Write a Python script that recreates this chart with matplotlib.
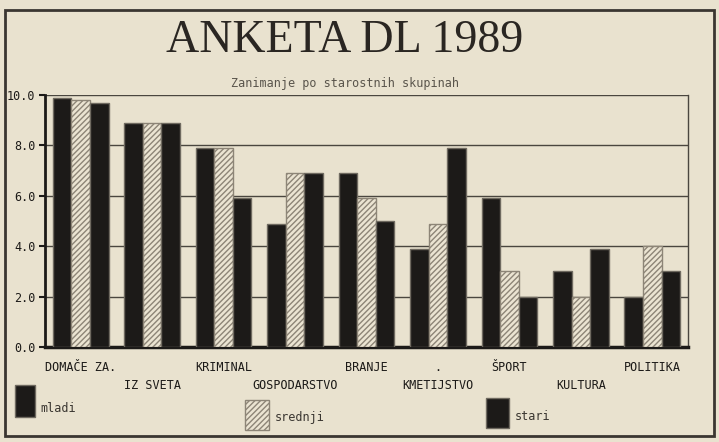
import numpy as np
import matplotlib
matplotlib.use("Agg")
import matplotlib.pyplot as plt
from matplotlib.patches import Rectangle

# =========================
# DATA
# =========================
categories = ["DOMAČE ZA.", "IZ SVETA", "KRIMINAL", "GOSPODARSTVO", "BRANJE",
              "KMETIJSTVO", "ŠPORT", "KULTURA", "POLITIKA"]
mladi = [9.9, 8.9, 7.9, 4.9, 6.9, 3.9, 5.9, 3.0, 2.0]
srednji = [9.8, 8.9, 7.9, 6.9, 5.9, 4.9, 3.0, 2.0, 4.0]
stari = [9.7, 8.9, 5.9, 6.9, 5.0, 7.9, 2.0, 3.9, 3.0]
series_names = ["mladi", "srednji", "stari"]
yticks = [0, 2, 4, 6, 8, 10]

title = "ANKETA DL 1989"
subtitle = "Zanimanje po starostnih skupinah"

# =========================
# STYLE
# =========================
paper = "#e9e2cf"
ink = "#1c1a18"
gray = "#6f6a60"
mono = "DejaVu Sans Mono"

W, H = 719, 442
fig = plt.figure(figsize=(W / 100, H / 100), dpi=100, facecolor=paper)

# outer frame of the printout
fig.add_artist(Rectangle((5 / W, 6 / H), 709 / W, 426 / H, transform=fig.transFigure,
                         fill=False, edgecolor="#3a3631", linewidth=2))

fig.text(0.48, 1 - 41 / H, title, ha="center", va="center", fontsize=33,
         family="Liberation Serif", color="#2a2622")
fig.text(0.48, 1 - 84 / H, subtitle, ha="center", va="center", fontsize=8.5,
         family=mono, color="#5a554c")

# =========================
# PLOT
# =========================
ax = fig.add_axes([45 / W, (H - 347) / H, (688 - 45) / W, (347 - 95) / H])
ax.set_facecolor(paper)

x = np.arange(len(categories))
w = 0.26

ax.bar(x - w, mladi, w, color=ink, edgecolor=gray, linewidth=1, zorder=3)
ax.bar(x, srednji, w, color="#ebe4d2", edgecolor="#8d8577", linewidth=1,
       hatch="//////", zorder=3)
ax.bar(x + w, stari, w, color=ink, edgecolor=gray, linewidth=1, zorder=3)

ax.set_xlim(-0.5, len(categories) - 0.5)
ax.set_ylim(0, 10)
ax.set_yticks(yticks)
ax.set_yticklabels([f"{v:.1f}" for v in yticks], family=mono, fontsize=8.5, color=ink)
ax.yaxis.grid(True, color="#4a463f", linewidth=1, zorder=0)

labels = []
for i, c in enumerate(categories):
    if c == "KMETIJSTVO":
        labels.append(".\n" + c)
    elif i % 2 == 1:
        labels.append("\n" + c)
    else:
        labels.append(c)
ax.set_xticks(x)
ax.set_xticklabels(labels, family=mono, fontsize=8.5, color=ink, linespacing=1.55)
ax.tick_params(axis="x", length=0, pad=10)
ax.tick_params(axis="y", length=4, width=1.5, color=ink, pad=3)
# first label sits a bit right of its group in the printout
ax.get_xticklabels()[0].set_x(0.25)

ax.spines["top"].set_visible(False)
ax.spines["left"].set_linewidth(2)
ax.spines["left"].set_color(ink)
ax.spines["bottom"].set_linewidth(2.5)
ax.spines["bottom"].set_color(ink)
ax.spines["right"].set_linewidth(1)
ax.spines["right"].set_color("#4a463f")

# =========================
# LEGEND (printout style)
# =========================
legend_boxes = [(15, 385, 20, 32), (245, 400, 24, 30), (486, 398, 23, 30)]
legend_text = [(40, 408), (275, 418), (515, 416)]
styles = [dict(facecolor=ink, edgecolor=gray),
          dict(facecolor="#ebe4d2", edgecolor="#8d8577", hatch="//////"),
          dict(facecolor=ink, edgecolor=gray)]
for (bx, by, bw, bh), (tx, ty), st, name in zip(legend_boxes, legend_text, styles, series_names):
    fig.add_artist(Rectangle((bx / W, 1 - (by + bh) / H), bw / W, bh / H,
                             transform=fig.transFigure, linewidth=1, **st))
    fig.text(tx / W, 1 - ty / H, name, ha="left", va="center", family=mono,
             fontsize=8.5, color="#3a3631")

fig.savefig("out.png", dpi=100, facecolor=paper)
